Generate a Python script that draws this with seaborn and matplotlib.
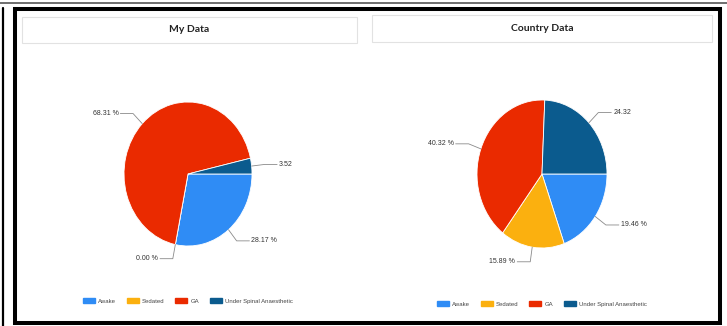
import matplotlib
matplotlib.use("Agg")
import numpy as np
import matplotlib.pyplot as plt
from matplotlib.patches import Rectangle
import seaborn as sns

# Data
categories = ["Awake", "Sedated", "GA", "Under Spinal Anaesthetic"]
my_values = [28.17, 0.00, 68.31, 3.52]
my_labels = ["28.17 %", "0.00 %", "68.31 %", "3.52"]
country_values = [19.46, 15.89, 40.32, 24.32]
country_labels = ["19.46 %", "15.89 %", "40.32 %", "24.32"]
colors = ["#2f8cf5", "#fbb00f", "#ea2a00", "#0b5b8e"]

W, H = 727, 326
sns.set_theme(style="white")
plt.rcParams['font.family'] = ['Liberation Sans', 'DejaVu Sans']

fig = plt.figure(figsize=(W / 100, H / 100), dpi=100)
fig.patch.set_facecolor("white")


def px_rect(x0, y0, x1, y1, **kw):
    # pixel coords, y measured from the top
    r = Rectangle((x0 / W, 1 - y1 / H), (x1 - x0) / W, (y1 - y0) / H,
                  transform=fig.transFigure, **kw)
    fig.add_artist(r)


def draw_panel(cx, cy, rx, ry, values, labels, title, tbox, legend_y):
    ax = fig.add_axes([(cx - 1.5 * rx) / W, 1 - (cy + 1.5 * ry) / H, 3 * rx / W, 3 * ry / H])
    wedges, _ = ax.pie(values, colors=colors, startangle=0, counterclock=False,
                       wedgeprops=dict(linewidth=0.6, edgecolor="white"))
    ax.set_aspect("auto")
    ax.set_xlim(-1.5, 1.5)
    ax.set_ylim(-1.5, 1.5)
    ax.axis("off")

    # leader lines and labels
    for w, lab in zip(wedges, labels):
        mid = np.deg2rad((w.theta1 + w.theta2) / 2)
        c, s = np.cos(mid), np.sin(mid)
        sign = 1 if c >= 0 else -1
        ex, ey = 1.2 * c, 1.2 * s
        hx = ex + sign * 0.2
        ax.plot([c, ex, hx], [s, ey, ey], color="#8a8a8a", lw=0.6, clip_on=False)
        ax.text(hx + sign * 0.03, ey, lab, ha="left" if sign > 0 else "right",
                va="center", fontsize=5, color="#333333")

    # title box
    px_rect(*tbox, facecolor="white", edgecolor="#e2e2e2", lw=0.8)
    fig.text((tbox[0] + tbox[2]) / 2 / W, 1 - (tbox[1] + tbox[3]) / 2 / H, title,
             ha="center", va="center", fontsize=7.5, fontweight="bold",
             family=["Lato", "DejaVu Sans"], color="#222222")

    handles = [Rectangle((0, 0), 1, 1, color=col) for col in colors]
    fig.legend(handles, categories, loc="center", bbox_to_anchor=(cx / W, 1 - legend_y / H),
               ncol=4, fontsize=4.3, frameon=False, handlelength=2.0, handleheight=0.8,
               handletextpad=0.5, columnspacing=1.8, labelcolor="#444444")


draw_panel(188, 174, 64, 72, my_values, my_labels, "My Data", (22, 17, 357, 43), 301)
draw_panel(542, 174, 65, 74, country_values, country_labels, "Country Data", (372, 15, 712, 42), 304)

# screenshot frame
px_rect(15, 9, 720, 323, facecolor="none", edgecolor="black", lw=2.9)
fig.add_artist(plt.Line2D([2.5 / W, 2.5 / W], [0, 1 - 8 / H], transform=fig.transFigure,
                          color="black", lw=1.6))
fig.add_artist(plt.Line2D([0, 1], [1 - 2.5 / H, 1 - 2.5 / H], transform=fig.transFigure,
                          color="#555555", lw=1.2))

fig.savefig("out.png", dpi=100, facecolor="white")
